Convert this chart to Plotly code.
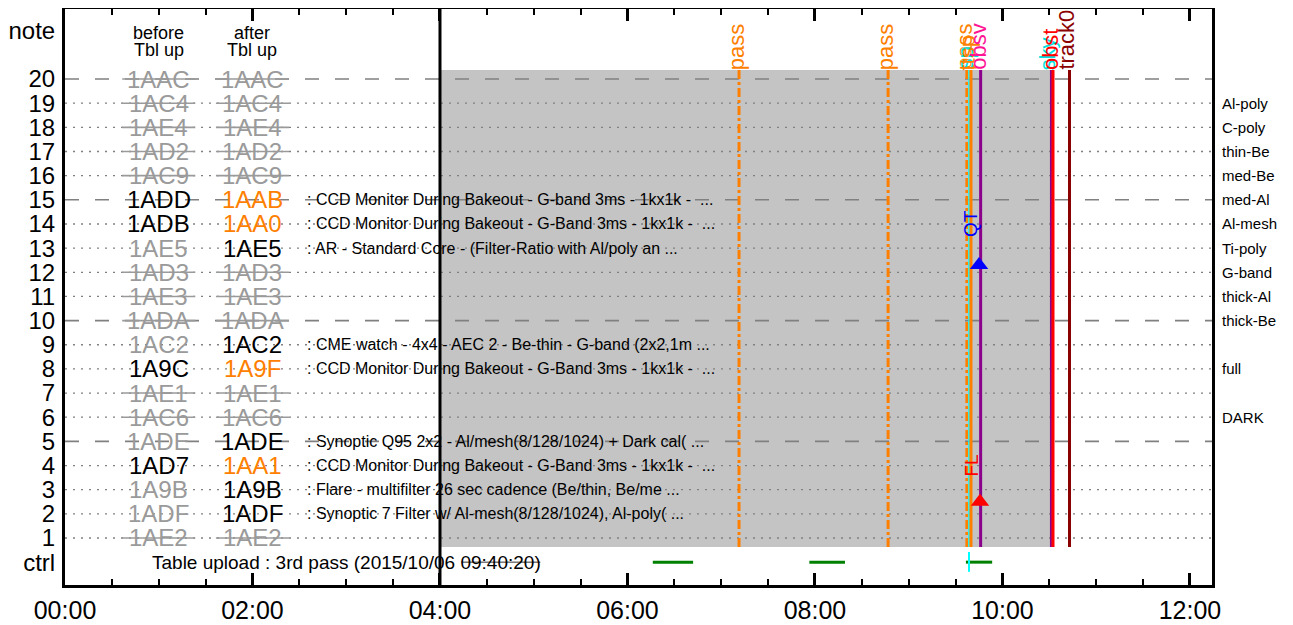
import plotly.graph_objects as go

# ---------------- data ----------------
rows = list(range(20, 0, -1))
before_codes = ["1AAC", "1AC4", "1AE4", "1AD2", "1AC9", "1ADD", "1ADB", "1AE5", "1AD3", "1AE3",
                "1ADA", "1AC2", "1A9C", "1AE1", "1AC6", "1ADE", "1AD7", "1A9B", "1ADF", "1AE2"]
after_codes = ["1AAC", "1AC4", "1AE4", "1AD2", "1AC9", "1AAB", "1AA0", "1AE5", "1AD3", "1AE3",
               "1ADA", "1AC2", "1A9F", "1AE1", "1AC6", "1ADE", "1AA1", "1A9B", "1ADF", "1AE2"]
# status: g = unused (gray), k = active (black), o = changed (orange)
before_status = ["g", "g", "g", "g", "g", "k", "k", "g", "g", "g",
                 "g", "g", "k", "g", "g", "g", "k", "g", "g", "g"]
after_status = ["g", "g", "g", "g", "g", "o", "o", "k", "g", "g",
                "g", "k", "o", "g", "g", "k", "o", "k", "k", "g"]
descriptions = [
    "", "", "", "", "",
    ": CCD Monitor During Bakeout - G-band 3ms - 1kx1k -  ...",
    ": CCD Monitor During Bakeout - G-Band 3ms - 1kx1k -  ...",
    ": AR - Standard Core - (Filter-Ratio with Al/poly an ...",
    "", "", "",
    ": CME watch - 4x4 - AEC 2 - Be-thin - G-band (2x2,1m ...",
    ": CCD Monitor During Bakeout - G-Band 3ms - 1kx1k -  ...",
    "", "",
    ": Synoptic Q95 2x2 - Al/mesh(8/128/1024) + Dark cal( ...",
    ": CCD Monitor During Bakeout - G-Band 3ms - 1kx1k -  ...",
    ": Flare - multifilter 26 sec cadence (Be/thin, Be/me ...",
    ": Synoptic 7 Filter w/ Al-mesh(8/128/1024), Al-poly( ...",
    "",
]
filter_rows = [19, 18, 17, 16, 15, 14, 13, 12, 11, 10, 8, 6]
filter_names = ["Al-poly", "C-poly", "thin-Be", "med-Be", "med-Al", "Al-mesh", "Ti-poly",
                "G-band", "thick-Al", "thick-Be", "full", "DARK"]

# time axis (hours)
x_tick_vals = [0, 2, 4, 6, 8, 10, 12]
x_tick_text = ["00:00", "02:00", "04:00", "06:00", "08:00", "10:00", "12:00"]
y_tick_vals = [0] + list(range(1, 21)) + [22]
y_tick_text = ["ctrl"] + [str(i) for i in range(1, 21)] + ["note"]

# shaded observation window
window_start, window_end = 4.0, 10.53
window_low, window_high = 0.63, 20.37
table_upload_time = 4.0

# event lines
event_x = [7.19, 8.78, 9.62, 9.643, 9.664, 9.767, 10.517, 10.539, 10.715]
event_label = ["pass", "pass", "pass", "sp", "ttsp", "obsv", "sky", "obst", "track0"]
event_line_color = ["#FF8000", "#FF8000", "#FF8000", "#00FFFF", "#FF8000", "#8B008B",
                    "#8B008B", "#FF0000", "#8B0000"]
event_label_color = ["#FF8000", "#FF8000", "#FF8000", "#00E0E0", "#FF8000", "#FF1493",
                     "#00E0E0", "#FF0000", "#8B0000"]
event_dash = ["dashdot", "dashdot", "dashdot", "solid", "solid", "solid", "solid", "solid", "solid"]
event_width = [3, 3, 3, 1.5, 3, 3, 2, 3, 3]

# markers on the timeline
marker_x = [9.75, 9.76]
marker_y = [12.3, 2.5]
marker_color = ["#0000FF", "#FF0000"]
marker_label = ["QT", "FL"]
marker_label_y = [14, 4]

# control row segments
ctrl_start = [6.27, 7.94, 9.61]
ctrl_end = [6.70, 8.32, 9.89]
ctrl_tick_x = 9.643
upload_bar = [4.23, 5.07]
ctrl_text = "Table upload : 3rd pass (2015/10/06 09:40:20)"

col_before_x, col_after_x = 1.0, 2.0
desc_x = 2.56

FONT = "Liberation Sans, Arial, sans-serif"
GRAY_TXT = "#9A9A9A"
STATUS_COLOR = {"g": GRAY_TXT, "k": "#000000", "o": "#FF8000"}

x_min, x_max = 0.0, 12.235
y_min, y_max = -0.946, 22.9

fig = go.Figure()

# ---------------- background shapes ----------------
shapes = []
shapes.append(dict(type="rect", xref="x", yref="y", x0=window_start, x1=window_end,
                   y0=window_low, y1=window_high, fillcolor="#C4C4C4", line_width=0,
                   layer="below"))
for r in range(1, 21):
    if r % 5 == 0:
        dash, col, w = "14px,16px", "#808080", 1.6
    else:
        dash, col, w = "2px,6px", "#808080", 1.3
    shapes.append(dict(type="line", xref="x", yref="y", x0=x_min, x1=x_max, y0=r, y1=r,
                       line=dict(color=col, width=w, dash=dash), layer="below"))
fig.update_layout(shapes=shapes)

# strike-through for unused codes
sx, sy = [], []
for i, r in enumerate(rows):
    if before_status[i] == "g" and after_status[i] == "g":
        for cx in (col_before_x, col_after_x):
            sx += [cx - 0.39, cx + 0.39, None]
            sy += [r, r, None]
fig.add_trace(go.Scatter(x=sx, y=sy, mode="lines", line=dict(color=GRAY_TXT, width=1.6),
                         hoverinfo="skip", showlegend=False))

# table upload vertical line
fig.add_trace(go.Scatter(x=[table_upload_time, table_upload_time], y=[y_min, y_max],
                         mode="lines", line=dict(color="black", width=3),
                         hoverinfo="skip", showlegend=False))

# event lines
for xv, col, dsh, w in zip(event_x, event_line_color, event_dash, event_width):
    fig.add_trace(go.Scatter(x=[xv, xv], y=[window_low, window_high], mode="lines",
                             line=dict(color=col, width=w, dash=dsh),
                             hoverinfo="skip", showlegend=False))

# ctrl row
for s, e in zip(ctrl_start, ctrl_end):
    fig.add_trace(go.Scatter(x=[s, e], y=[0, 0], mode="lines",
                             line=dict(color="#008000", width=3),
                             hoverinfo="skip", showlegend=False))
fig.add_trace(go.Scatter(x=[ctrl_tick_x, ctrl_tick_x], y=[0.42, -0.4], mode="lines",
                         line=dict(color="#00FFFF", width=2), hoverinfo="skip", showlegend=False))
fig.add_trace(go.Scatter(x=upload_bar, y=[0, 0], mode="lines",
                         line=dict(color="#333333", width=1), hoverinfo="skip", showlegend=False))

# markers
fig.add_trace(go.Scatter(x=marker_x, y=marker_y, mode="markers",
                         marker=dict(symbol="triangle-up", size=16, color=marker_color,
                                     line_width=0),
                         hoverinfo="skip", showlegend=False))

# ---------------- annotations ----------------
ann = []
for i, r in enumerate(rows):
    ann.append(dict(x=col_before_x, y=r, text=before_codes[i], showarrow=False,
                    font=dict(size=24, color=STATUS_COLOR[before_status[i]], family=FONT)))
    ann.append(dict(x=col_after_x, y=r, text=after_codes[i], showarrow=False,
                    font=dict(size=24, color=STATUS_COLOR[after_status[i]], family=FONT)))
    if descriptions[i]:
        ann.append(dict(x=desc_x, y=r, text=descriptions[i], showarrow=False, xanchor="left",
                        font=dict(size=16, color="black", family=FONT)))

ann.append(dict(x=col_before_x, y=22, text="before", showarrow=False, yshift=-2,
                font=dict(size=18, color="black", family=FONT)))
ann.append(dict(x=col_before_x, y=22, text="Tbl up", showarrow=False, yshift=-19,
                font=dict(size=18, color="black", family=FONT)))
ann.append(dict(x=col_after_x, y=22, text="after", showarrow=False, yshift=-2,
                font=dict(size=18, color="black", family=FONT)))
ann.append(dict(x=col_after_x, y=22, text="Tbl up", showarrow=False, yshift=-19,
                font=dict(size=18, color="black", family=FONT)))

for r, name in zip(filter_rows, filter_names):
    ann.append(dict(x=1, xref="paper", y=r, text=name, showarrow=False, xanchor="left",
                    xshift=8, font=dict(size=15, color="black", family=FONT)))

for xv, lab, col in zip(event_x, event_label, event_label_color):
    ann.append(dict(x=xv, y=window_high, text=lab, showarrow=False, textangle=-90,
                    yanchor="bottom", xshift=-3, yshift=-2,
                    font=dict(size=22, color=col, family=FONT)))

for xv, yv, lab, col in zip(marker_x, marker_label_y, marker_label, marker_color):
    ann.append(dict(x=xv, y=yv, text=lab, showarrow=False, textangle=-90, xshift=-8,
                    font=dict(size=19, color=col, family=FONT)))

ann.append(dict(x=0.905, y=0, text=ctrl_text, showarrow=False, xanchor="left",
                font=dict(size=19, color="black", family=FONT)))

fig.update_layout(annotations=ann)

# the page adds an 8px body margin, so the figure is sized to the visible area
fig.update_layout(
    width=1285, height=617,
    margin=dict(l=57, r=81, t=1, b=40, autoexpand=False),
    paper_bgcolor="white", plot_bgcolor="white",
    font=dict(family=FONT, color="black"),
    xaxis=dict(range=[x_min, x_max], tickvals=x_tick_vals, ticktext=x_tick_text,
               automargin=False,
               showgrid=False, zeroline=False, showline=True, linecolor="black", linewidth=3,
               mirror="ticks", ticks="inside", ticklen=12, tickwidth=3, tickcolor="black",
               tickfont=dict(size=25, family=FONT), ticklabelstandoff=1,
               minor=dict(dtick=0.5, tick0=0, ticks="inside", ticklen=6, tickwidth=2,
                          tickcolor="black", showgrid=False)),
    yaxis=dict(range=[y_min, y_max], tickvals=y_tick_vals, ticktext=y_tick_text,
               automargin=False,
               showgrid=False, zeroline=False, showline=True, linecolor="black", linewidth=3,
               mirror=True, ticks="", tickfont=dict(size=24, family=FONT),
               ticklabelstandoff=2),
)

fig.write_html("out.html")
